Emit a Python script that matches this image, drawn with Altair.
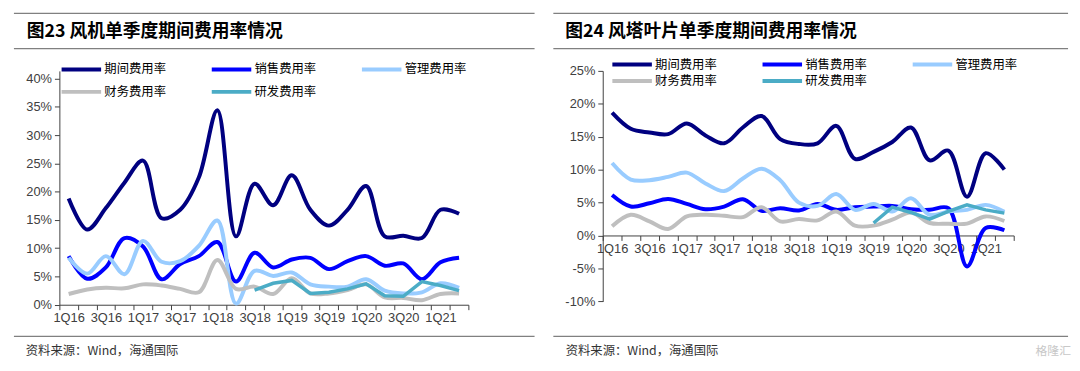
import altair as alt
import pandas as pd

quarters = ["1Q16", "2Q16", "3Q16", "4Q16", "1Q17", "2Q17", "3Q17", "4Q17",
            "1Q18", "2Q18", "3Q18", "4Q18", "1Q19", "2Q19", "3Q19", "4Q19",
            "1Q20", "2Q20", "3Q20", "4Q20", "1Q21", "2Q21"]
series_names = ["期间费用率", "销售费用率", "管理费用率", "财务费用率", "研发费用率"]
series_colors = ["#000080", "#0000FF", "#99CCFF", "#BFBFBF", "#4BACC6"]

# 图23 风机
left_qj = [18.8, 13.3, 17.1, 21.6, 25.5, 15.3, 16.8, 22.5, 34.4, 12.1, 21.4,
           17.6, 22.9, 16.8, 14.0, 16.8, 21.0, 12.1, 12.2, 11.8, 16.8, 16.1]
left_xs = [8.6, 4.6, 6.6, 11.8, 10.3, 4.5, 7.2, 8.6, 11.1, 4.1, 9.2,
           6.6, 8.0, 8.3, 6.3, 7.7, 8.6, 6.9, 7.3, 4.5, 7.5, 8.3]
left_gl = [8.3, 5.5, 8.6, 5.4, 11.3, 7.6, 7.7, 10.4, 14.9, 0.2, 6.0,
           5.1, 5.7, 3.6, 3.2, 3.2, 4.5, 2.5, 2.0, 2.2, 3.8, 3.0]
left_cw = [1.9, 2.7, 3.0, 2.9, 3.6, 3.4, 2.8, 2.2, 7.9, 2.8, 3.2,
           1.9, 4.7, 2.0, 2.0, 2.6, 3.6, 1.3, 1.2, 0.8, 1.9, 2.0]
left_yf = [None] * 10 + [2.6, 3.8, 4.3, 2.0, 2.2, 2.8, 3.7, 1.6, 1.5, 4.1, 3.4, 2.5]

# 图24 风塔叶片
right_qj = [18.65, 16.2, 15.65, 15.4, 17.0, 15.2, 14.0, 16.4, 18.15, 14.65, 13.9,
            14.0, 16.65, 11.65, 12.7, 14.2, 16.4, 11.4, 12.9, 5.9, 12.5, 10.0]
right_xs = [6.15, 4.4, 4.9, 5.55, 4.8, 4.0, 4.4, 5.5, 3.75, 4.15, 3.8,
            4.8, 3.9, 4.3, 4.4, 4.5, 4.0, 3.9, 4.15, -4.7, 1.15, 0.8]
right_gl = [11.0, 8.5, 8.4, 8.9, 9.55, 7.9, 6.75, 8.65, 10.15, 8.4, 5.0,
            4.5, 6.3, 3.9, 4.8, 3.65, 5.65, 3.15, 3.65, 3.9, 4.65, 3.6]
right_cw = [1.4, 3.15, 2.15, 1.0, 2.9, 3.15, 3.0, 2.8, 4.3, 2.15, 2.5,
            2.3, 3.65, 1.5, 1.5, 2.4, 3.5, 1.9, 1.8, 1.8, 2.9, 2.2]
right_yf = [None] * 14 + [1.9, 4.3, 3.5, 2.5, 3.65, 4.65, 3.9, 3.4]

left_title = "图23 风机单季度期间费用率情况"
right_title = "图24 风塔叶片单季度期间费用率情况"
source_text = "资料来源：Wind，海通国际"
watermark = "格隆汇"
left_yticks = [0, 5, 10, 15, 20, 25, 30, 35, 40]
right_yticks = [-10, -5, 0, 5, 10, 15, 20, 25]

CJK = "Noto Sans CJK SC"
SANS = "Liberation Sans"
AXC = "#404040"


def long_df(cols):
    rows = []
    for name, vals in zip(series_names, cols):
        for q, v in zip(quarters, vals):
            if v is not None:
                rows.append({"quarter": q, "series": name, "value": v})
    return pd.DataFrame(rows)


def const(text=""):
    return alt.Chart(pd.DataFrame({"t": [text]}))


def panel(cols, ydom, yticks, width, height, xoffset, leg, deco, extra=()):
    df = long_df(cols)
    x = alt.X("quarter:N", sort=quarters,
              scale=alt.Scale(type="band", domain=quarters, paddingInner=0, paddingOuter=0),
              axis=alt.Axis(title=None, labelAngle=0, tickBand="extent", tickSize=5,
                            labelExpr="test(/^[13]Q/, datum.label) ? datum.label : ''",
                            labelOverlap=False, labelFont=SANS, labelFontSize=13,
                            labelColor=AXC, domainColor=AXC, tickColor=AXC,
                            labelPadding=2, offset=xoffset))
    y = alt.Y("value:Q", scale=alt.Scale(domain=ydom, nice=False, zero=False),
              axis=alt.Axis(title=None, values=yticks, labelExpr="datum.value + '%'",
                            grid=False, tickSize=5, labelFont=SANS, labelFontSize=13,
                            labelColor=AXC, domainColor=AXC, tickColor=AXC, labelPadding=3))
    color = alt.Color("series:N",
                      scale=alt.Scale(domain=series_names, range=series_colors),
                      legend=alt.Legend(title=None, orient="none", columns=3,
                                        direction="horizontal",
                                        symbolType="M-5,0H5", symbolSize=64,
                                        symbolStrokeWidth=4, labelFont=CJK,
                                        labelFontSize=12.5, labelColor="black",
                                        labelOffset=17, padding=0, **leg))
    base = alt.Chart(df)
    smooth = base.transform_filter(alt.datum.series != "研发费用率").mark_line(
        interpolate="catmull-rom", strokeWidth=4).encode(x=x, y=y, color=color)
    straight = base.transform_filter(alt.datum.series == "研发费用率").mark_line(
        strokeWidth=3.5).encode(x=x, y=y, color=color)

    rx1, rx2, r1, r2, r3, tx, ty, title, sx, sy = deco
    rule_layers = [
        const().mark_rule(color="#808080", strokeWidth=1.3).encode(
            x=alt.value(rx1), x2=alt.value(rx2), y=alt.value(yy))
        for yy in (r1, r2, r3)
    ]
    title_layer = const(title).mark_text(
        align="left", baseline="middle", font=CJK, fontSize=18, fontWeight="bold",
        color="black").encode(text="t:N", x=alt.value(tx), y=alt.value(ty))
    source_layer = const(source_text).mark_text(
        align="left", baseline="middle", font=CJK, fontSize=12.5,
        color="#333333").encode(text="t:N", x=alt.value(sx), y=alt.value(sy))
    return alt.layer(smooth, straight, *rule_layers, title_layer, source_layer,
                     *extra).properties(width=width, height=height)


left = panel([left_qj, left_xs, left_gl, left_cw, left_yf], [0, 41.38], left_yticks,
             414, 236.7, 0,
             dict(legendX=16, legendY=-8, columnPadding=37, rowPadding=6),
             (-46, 481, -58.3, -22.6, 268.7, -33, -38.8, left_title, -34, 283.7))

wm = const(watermark).mark_text(
    align="left", baseline="middle", font=CJK, fontSize=12, color="#C8C8C8").encode(
    text="t:N", x=alt.value(438), y=alt.value(283.7))

right = panel([right_qj, right_xs, right_gl, right_cw, right_yf], [-10, 25], right_yticks,
              416, 233.3, -66.7,
              dict(legendX=23.5, legendY=-13, columnPadding=37, rowPadding=0),
              (-50, 471, -58.3, -22.6, 268.7, -38, -38.8, right_title, -37.5, 283.7),
              extra=(wm,))

chart = alt.hconcat(left, right, spacing=17).resolve_scale(
    color="independent", x="independent", y="independent").resolve_legend(
    color="independent").properties(
    padding={"left": 5, "top": 2.5, "right": 0, "bottom": 0}).configure_view(stroke=None)

chart.save("out.html", embed_options={"renderer": "svg", "actions": False})
